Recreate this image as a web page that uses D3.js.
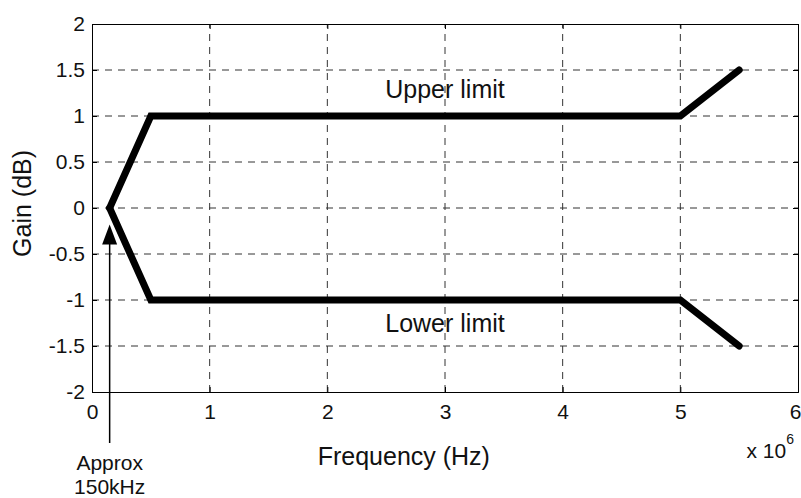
<!DOCTYPE html>
<html>
<head>
<meta charset="utf-8">
<script src="https://cdn.jsdelivr.net/npm/d3@7"></script>
<style>
  body { margin: 0; background: #fff; }
  svg { font-family: "Liberation Sans", Arial, sans-serif; }
</style>
</head>
<body>
<svg id="chart" width="801" height="498"></svg>
<script>
// limit mask, frequency in Hz, gain in dB
const upperFreq = [0.15e6, 0.5e6, 5e6, 5.5e6]
const upperGain = [0, 1, 1, 1.5]
const lowerFreq = [0.15e6, 0.5e6, 5e6, 5.5e6]
const lowerGain = [0, -1, -1, -1.5]

const xTicks = [0, 1e6, 2e6, 3e6, 4e6, 5e6, 6e6]
const yTicks = [-2, -1.5, -1, -0.5, 0, 0.5, 1, 1.5, 2]

const margin = {top: 24, right: 3, bottom: 106, left: 92}
const width = 801, height = 498

const svg = d3.select("#chart")

const x = d3.scaleLinear().domain([0, 6e6]).range([margin.left, width - margin.right])
const y = d3.scaleLinear().domain([-2, 2]).range([height - margin.bottom, margin.top])

const x0 = x.range()[0], x1 = x.range()[1]
const y0 = y.range()[0], y1 = y.range()[1]

//dashed grid
svg.append("g")
  .selectAll("line")
  .data(xTicks.slice(1, -1))
  .join("line")
  .attr("x1", d => x(d)).attr("x2", d => x(d))
  .attr("y1", y0).attr("y2", y1)
  .attr("stroke", "#333")
  .attr("stroke-dasharray", "7,6")

svg.append("g")
  .selectAll("line")
  .data(yTicks.slice(1, -1))
  .join("line")
  .attr("x1", x0).attr("x2", x1)
  .attr("y1", d => y(d)).attr("y2", d => y(d))
  .attr("stroke", "#333")
  .attr("stroke-dasharray", "7,6")

//axes, ticks point inwards like matlab
svg.append("g")
  .attr("transform", `translate(0,${y0})`)
  .call(d3.axisBottom(x).tickValues(xTicks).tickSize(-5).tickPadding(12).tickFormat(d => d / 1e6))
  .call(g => g.selectAll("text").attr("font-size", 21).attr("fill", "#111"))
  //last label sits at the window edge, keep it inside
  .call(g => g.selectAll(".tick:last-of-type text").attr("dx", -3))

svg.append("g")
  .attr("transform", `translate(${x0},0)`)
  .call(d3.axisLeft(y).tickValues(yTicks).tickSize(-5).tickPadding(7).tickFormat(d => String(d)))
  .call(g => g.selectAll("text").attr("font-size", 21).attr("fill", "#111"))

svg.append("g")
  .attr("transform", `translate(0,${y1})`)
  .call(d3.axisTop(x).tickValues(xTicks).tickSize(-5).tickFormat(""))

svg.append("g")
  .attr("transform", `translate(${x1},0)`)
  .call(d3.axisRight(y).tickValues(yTicks).tickSize(-5).tickFormat(""))

svg.selectAll(".domain").attr("stroke", "#000")

//the two limit lines
const line = d3.line().x(d => x(d[0])).y(d => y(d[1]))

const limits = [
  d3.zip(upperFreq, upperGain),
  d3.zip(lowerFreq, lowerGain)
]

svg.append("g")
  .selectAll("path")
  .data(limits)
  .join("path")
  .attr("d", line)
  .attr("fill", "none")
  .attr("stroke", "#000")
  .attr("stroke-width", 7)
  .attr("stroke-linecap", "round")
  .attr("stroke-linejoin", "miter")

svg.append("text")
  .attr("x", x(3e6)).attr("y", y(1.196))
  .attr("text-anchor", "middle")
  .attr("font-size", 25)
  .attr("fill", "#111")
  .text("Upper limit")

svg.append("text")
  .attr("x", x(3e6)).attr("y", y(-1.345))
  .attr("text-anchor", "middle")
  .attr("font-size", 25)
  .attr("fill", "#111")
  .text("Lower limit")

//axis labels
svg.append("text")
  .attr("x", x(2.65e6)).attr("y", y0 + 73)
  .attr("text-anchor", "middle")
  .attr("font-size", 25)
  .attr("fill", "#111")
  .text("Frequency (Hz)")

svg.append("text")
  .attr("transform", `translate(31,${y(0.05)}) rotate(-90)`)
  .attr("text-anchor", "middle")
  .attr("font-size", 25)
  .attr("fill", "#111")
  .text("Gain (dB)")

const expo = svg.append("text")
  .attr("x", x1 - 4).attr("y", y0 + 66)
  .attr("text-anchor", "end")
  .attr("font-size", 21)
  .attr("fill", "#111")
expo.append("tspan").text("x 10")
expo.append("tspan").attr("dy", -14).attr("font-size", 14).text("6")

//150kHz arrow
const ax = x(0.15e6)
const tipY = y(-0.18)
svg.append("line")
  .attr("x1", ax).attr("x2", ax)
  .attr("y1", y0 + 51).attr("y2", tipY + 15)
  .attr("stroke", "#000")
  .attr("stroke-width", 1.5)

svg.append("path")
  .attr("d", `M${ax},${tipY} L${ax - 7.5},${tipY + 20} L${ax + 7.5},${tipY + 20} Z`)
  .attr("fill", "#000")

svg.append("text")
  .attr("x", ax).attr("y", y0 + 78)
  .attr("text-anchor", "middle")
  .attr("font-size", 21)
  .attr("fill", "#111")
  .text("Approx")

svg.append("text")
  .attr("x", ax).attr("y", y0 + 102)
  .attr("text-anchor", "middle")
  .attr("font-size", 21)
  .attr("fill", "#111")
  .text("150kHz")
</script>
</body>
</html>
